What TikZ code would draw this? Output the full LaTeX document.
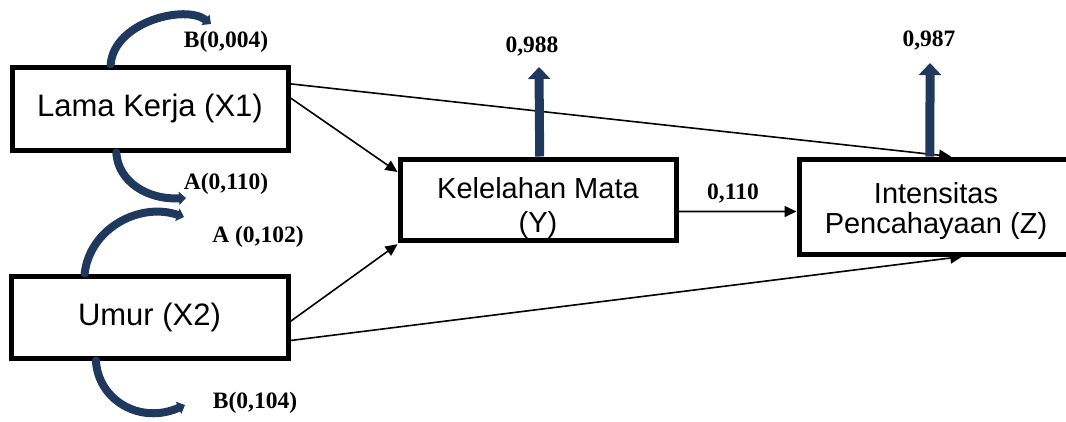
\documentclass[tikz,border=0pt]{standalone}
\usepackage{fontspec}
\setmainfont{Liberation Sans}
\newfontfamily\labfont{Liberation Serif}
\usetikzlibrary{arrows.meta,calc}
\definecolor{navy}{RGB}{31,56,93}
\tikzset{
 box/.style={draw=black, line width=5pt, minimum width=276pt, minimum height=#1, inner sep=0pt},
 big/.style={font=\fontsize{31}{34}\selectfont},
 midY/.style={font=\fontsize{29}{34}\selectfont, align=center, inner sep=0pt},
 midZ/.style={font=\fontsize{29}{30}\selectfont, align=center, inner sep=0pt},
 conn/.style={line width=1.6pt, -{Triangle[length=12pt,width=11pt]}},
 upar/.style={navy, line width=9pt, -{Triangle[length=12pt,width=22pt]}},
 curl/.style={navy, line width=8pt, line cap=round, -{Triangle[length=7pt,width=13pt]}},
 lab/.style={font=\labfont\bfseries\fontsize{23.5}{26}\selectfont, inner sep=0pt},
}
\begin{document}
\begin{tikzpicture}[x=1pt,y=-1pt]
\useasboundingbox (0,0) rectangle (1066,421);
\clip (0,0) rectangle (1066,421);
% boxes
\node[box=83pt, big] (x1) at (150,108.5) {Lama Kerja (X1)};
\node[box=82pt, big, minimum width=277pt] (x2) at (149.5,317) {Umur (X2)};
\node[midY] (ytxt) at (538,208) {Kelelahan Mata\\(Y)};
\fill[white] (400,241) rectangle (676,250);
\node[box=81pt] (y) at (538,199.5) {};
\node[box=95pt] (z) at (937,206.5) {};
\node[midZ] (ztxt) at (936,211) {Intensitas\\Pencahayaan (Z)};
% straight connectors
\draw[conn] ($(x1.north east)!0.22!(x1.south east)$) -- ($(z.north west)!0.55!(z.north east)$);
\draw[conn] ($(x1.north east)!0.38!(x1.south east)$) -- ($(y.north west)!0.18!(y.south west)$);
\draw[conn] ($(x2.north east)!0.55!(x2.south east)$) -- ($(y.north west)!1.02!(y.south west)$);
\draw[conn] ($(x2.north east)!0.77!(x2.south east)$) -- ($(z.south west)!0.59!(z.south east)$);
\draw[conn] ($(y.north east)!0.64!(y.south east)$) -- ($(z.north west)!0.55!(z.south west)$);
% thick upward arrows
\coordinate (ytop) at (539,67);
\coordinate (ztop) at (930,63);
\draw[upar] ($(y.north west)!0.506!(y.north east)$) -- (ytop);
\draw[upar] ($(z.north west)!0.475!(z.north east)$) -- (ztop);
% curved arrows
\coordinate (c1) at (211,24);
\coordinate (c2) at (186,198);
\coordinate (c3) at (184,217);
\coordinate (c4) at (185,405);
\draw[curl] ($(x1.north west)!0.36!(x1.north east)$) .. controls (114,22) and (185,4) .. (c1);
\draw[curl] ($(x1.south west)!0.38!(x1.south east)$) .. controls (118,182) and (148,200) .. (c2);
\draw[curl] ($(x2.north west)!0.27!(x2.north east)$) .. controls (90,228) and (140,202) .. (c3);
\draw[curl] ($(x2.south west)!0.31!(x2.south east)$) .. controls (98,400) and (140,425) .. (c4);
% labels
\node[lab] (lb1) at (226,42) {B(0,004)};
\node[lab] (lb2) at (226,184) {A(0,110)};
\node[lab] (lb3) at (258,237) {A (0,102)};
\node[lab] (lb4) at (255,403) {B(0,104)};
\node[lab] (l988) at (532,47) {0,988};
\node[lab] (l987) at (929,41) {0,987};
\node[lab] (l110) at (733,193) {0,110};
\end{tikzpicture}
\end{document}
